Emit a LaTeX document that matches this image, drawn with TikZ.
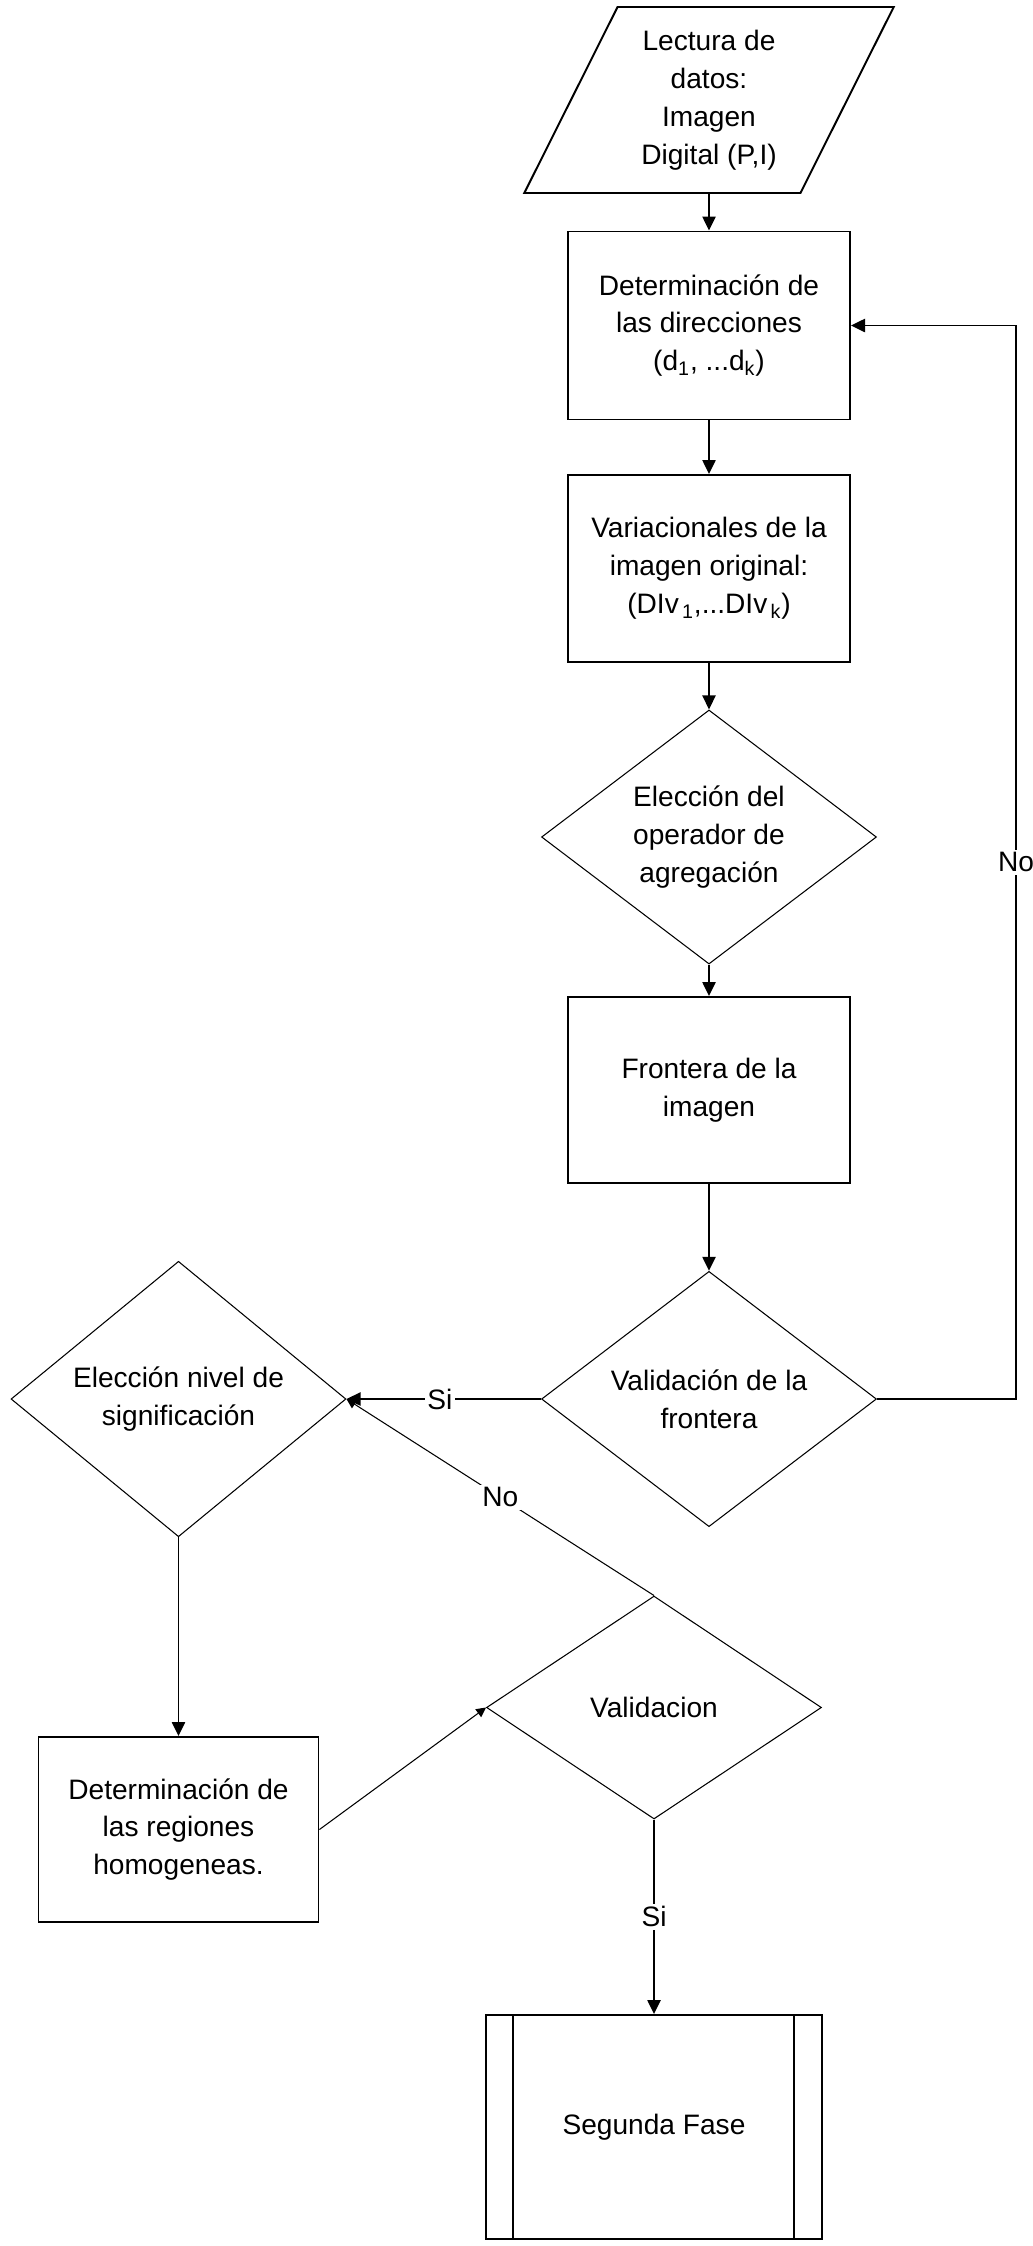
\documentclass[tikz,border=0pt]{standalone}
\usepackage{fontspec}
\setmainfont{Liberation Sans}
\usetikzlibrary{arrows.meta, shapes.geometric}
\tikzset{
  flow/.style     = {-{Triangle[length=8pt, width=7.5pt]}, line width=1.1pt},
  thin flow/.style= {-{Triangle[length=5.5pt, width=5.5pt]}, line width=0.6pt},
  proc/.style     = {draw, line width=1.1pt, minimum width=5.64cm,
                     minimum height=3.76cm, align=center, inner sep=2pt},
  decis/.style    = {draw, diamond, line width=0.6pt, minimum width=6.7cm,
                     minimum height=4.46cm, align=center, inner sep=0pt},
  datos/.style    = {draw, trapezium, trapezium left angle=63.7,
                     trapezium right angle=116.3, trapezium stretches,
                     line width=1.1pt, minimum width=7.4cm,
                     minimum height=3.72cm, align=center},
  subproc/.style  = {draw, line width=1.1pt, minimum width=6.72cm,
                     minimum height=4.48cm, align=center},
  tag/.style      = {fill=white, inner sep=1.5pt},
}

\begin{document}
\begin{tikzpicture}[x=0.02cm, y=-0.02cm, font=\fontsize{16}{21.6}\selectfont]

% ---- Frame (pixel grid of the original, y downwards) ------------------------
\useasboundingbox (0,0) rectangle (1032,2246);

% ---- Main column: reading and boundary ---------------------------------------
\node[datos] (lectura) at (709,100) {Lectura de\\datos:\\Imagen\\Digital (P,I)};
\node[proc] (direc) at (709,325.5)
  {Determinación de\\las direcciones\\(d\textsubscript{1}, ...d\textsubscript{k})};
\node[proc, minimum height=3.74cm] (variac) at (709,568.5)
  {Variacionales de la\\imagen original:\\(DIv\textsubscript{\,1},...DIv\textsubscript{\,k})};
\node[decis] (agreg) at (709,837) {Elección del\\operador de\\agregación};
\node[proc, minimum height=3.72cm] (frontera) at (709,1090) {Frontera de la\\imagen};
\node[decis] (valfront) at (709,1399) {Validación de la\\frontera};

% ---- Second branch: significance and regions ---------------------------------
\node[decis] (nivel) at (178.5,1399) {Elección nivel de\\significación};
\node[proc, minimum width=5.6cm, minimum height=3.7cm] (regiones) at (178.5,1829.5)
  {Determinación de\\las regiones\\homogeneas.};
\node[decis] (valid) at (654,1707.5) {Validacion};
\node[subproc] (fase) at (654,2127) {Segunda Fase};
\draw[line width=1.1pt] ([xshift=0.56cm]fase.north west) -- ([xshift=0.56cm]fase.south west);
\draw[line width=1.1pt] ([xshift=-0.58cm]fase.north east) -- ([xshift=-0.58cm]fase.south east);

% ---- Connectors ---------------------------------------------------------------
\draw[flow] (lectura.south) -- (direc.north);
\draw[flow] (direc.south) -- (variac.north);
\draw[flow] (variac.south) -- (agreg.north);
\draw[flow] (agreg.south) -- (frontera.north);
\draw[flow] (frontera.south) -- (valfront.north);

% back to the directions when the boundary is rejected
\coordinate (giro) at (1016,1399);
\draw[flow] (valfront.east) -- (giro) |- node[tag, pos=0.25] {No} (direc.east);
\draw[flow] (valfront.west) -- node[tag, pos=0.52] {Si} (nivel.east);

\draw[flow] (nivel.south) -- (regiones.north);
\draw[thin flow] (regiones.east) -- (valid.west);
\draw[thin flow] (valid.north) -- node[tag] {No} (nivel.east);
\draw[flow] (valid.south) -- node[tag] {Si} (fase.north);

\end{tikzpicture}
\end{document}
